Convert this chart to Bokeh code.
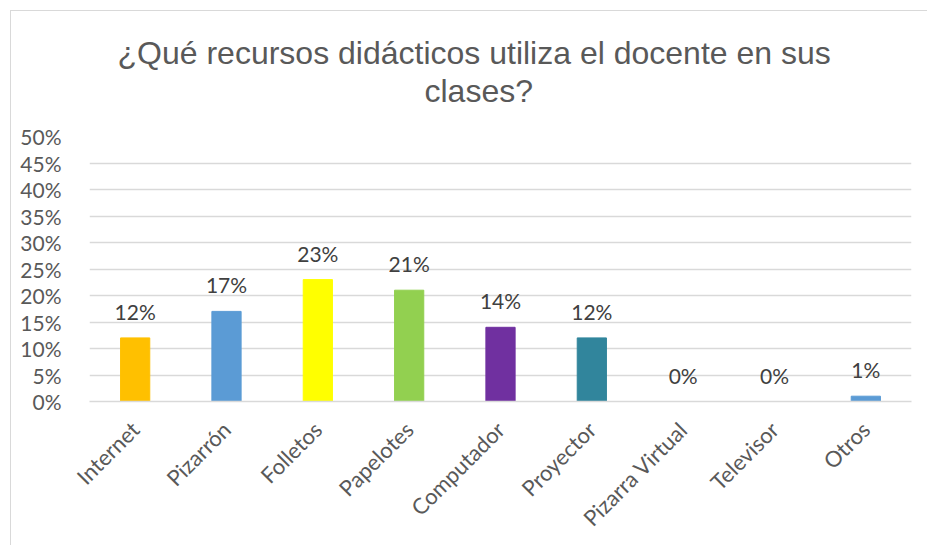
import math
from bokeh.plotting import figure
from bokeh.models import (ColumnDataSource, FactorRange, Range1d, FixedTicker,
                          NumeralTickFormatter, LabelSet, Title)
from bokeh.core.properties import value
from bokeh.embed import file_html
from bokeh.resources import INLINE

# ---- data ----
categories = ["Internet", "Pizarrón", "Folletos", "Papelotes", "Computador",
              "Proyector", "Pizarra Virtual", "Televisor", "Otros"]
values = [0.12, 0.17, 0.23, 0.21, 0.14, 0.12, 0.00, 0.00, 0.01]
colors = ["#FFC000", "#5B9BD5", "#FFFF00", "#92D050", "#7030A0",
          "#31859C", "#A5A5A5", "#4472C4", "#5B9BD5"]
y_ticks = [0.0, 0.05, 0.10, 0.15, 0.20, 0.25, 0.30, 0.35, 0.40, 0.45, 0.50]
title_line1 = "¿Qué recursos didácticos utiliza el docente en sus"
title_line2 = "clases?"

labels = [f"{round(v * 100)}%" for v in values]

src = ColumnDataSource(dict(cat=categories, val=values, color=colors, label=labels))

p = figure(width=917, height=535, x_range=FactorRange(*categories, range_padding=0),
           y_range=Range1d(0, 0.5), output_backend="svg", toolbar_location=None,
           title=None, min_border_left=78, min_border_right=17, min_border_top=125,
           min_border_bottom=145)
p.margin = (10, 0, 0, 10)
p.styles = {"border-top": "1px solid #D9D9D9", "border-left": "1px solid #D9D9D9"}
p.outline_line_color = None
p.background_fill_color = "white"
p.border_fill_color = "white"

gray = "#595959"
# spacer between the title and the plot area (blank)
p.add_layout(Title(text=" ", text_font_size="10px", standoff=15), "above")
p.add_layout(Title(text=title_line2, align="left", offset=335, standoff=0,
                   text_font="Liberation Sans", text_font_size="32px",
                   text_font_style="normal", text_color=gray), "above")
p.add_layout(Title(text=title_line1, align="left", offset=28, standoff=0,
                   text_font="Liberation Sans", text_font_size="32px",
                   text_font_style="normal", text_color=gray), "above")

p.vbar(x="cat", top="val", width=0.32, color="color", source=src)

p.add_layout(LabelSet(x="cat", y="val", text="label", source=src, y_offset=14,
                      text_align="center", text_baseline="bottom",
                      text_font_size=value("21px"), text_font=value("Lato"),
                      text_color="#404040"))

# y axis
p.yaxis.ticker = FixedTicker(ticks=y_ticks)
p.yaxis.formatter = NumeralTickFormatter(format="0%")
p.yaxis.axis_line_color = None
p.yaxis.major_tick_line_color = None
p.yaxis.minor_tick_line_color = None
p.yaxis.major_label_standoff = 22
p.yaxis.major_label_text_font = "Lato"
p.yaxis.major_label_text_font_size = "21px"
p.yaxis.major_label_text_color = gray

# x axis
p.xaxis.axis_line_color = "#D9D9D9"
p.xaxis.axis_line_width = 1.5
p.xaxis.major_tick_line_color = None
p.xaxis.major_label_orientation = math.pi / 4
p.xaxis.major_label_standoff = 18
p.xaxis.major_label_text_font = "Lato"
p.xaxis.major_label_text_font_size = "22px"
p.xaxis.major_label_text_color = gray

p.xgrid.grid_line_color = None
p.ygrid.grid_line_color = "#D9D9D9"
p.ygrid.grid_line_width = 1.5

open("out.html", "w").write(file_html(p, INLINE))
